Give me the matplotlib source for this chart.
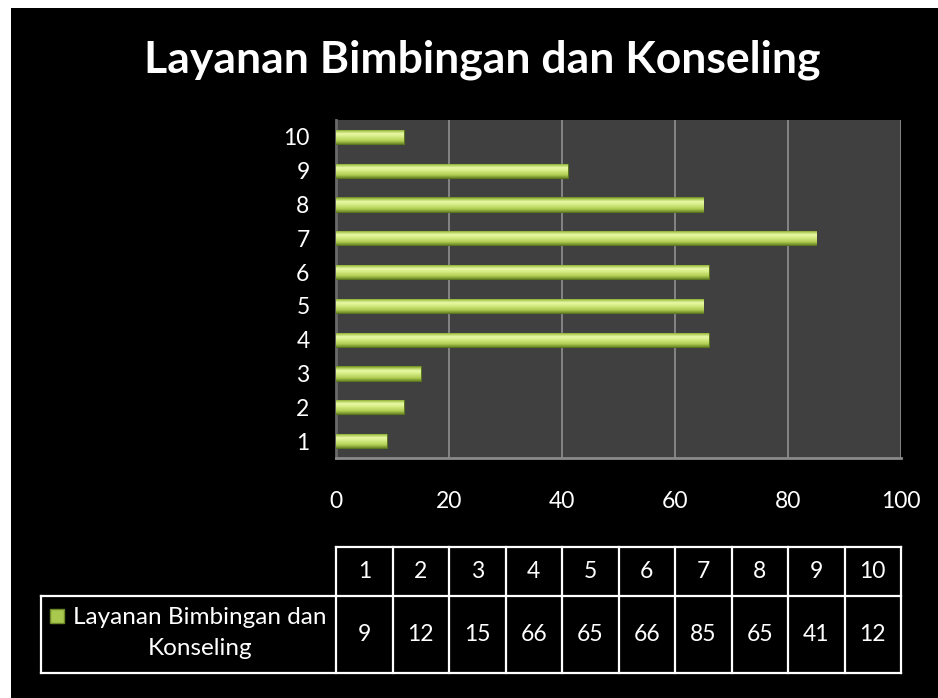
import matplotlib
matplotlib.use("Agg")
import matplotlib.pyplot as plt
import numpy as np
from matplotlib.colors import LinearSegmentedColormap
from matplotlib.patches import Rectangle

plt.rcParams['font.family'] = ['Lato', 'DejaVu Sans']

title = "Layanan Bimbingan dan Konseling"
series_name = "Layanan Bimbingan dan\nKonseling"
categories = ["1", "2", "3", "4", "5", "6", "7", "8", "9", "10"]
values = [9, 12, 15, 66, 65, 66, 85, 65, 41, 12]
x_ticks = [0, 20, 40, 60, 80, 100]

W, H = 938, 698
fig = plt.figure(figsize=(W / 100, H / 100), dpi=100, facecolor="white")

# black slide background (white margin at top/left like the screenshot)
fig.patches.append(Rectangle((11 / W, 0), 1, 1 - 8 / H, transform=fig.transFigure,
                             facecolor="black", edgecolor="none", zorder=-5))

fig.text(482 / W, 1 - 60 / H, title, ha="center", va="center", color="white",
         fontsize=32, fontweight="bold")

# chart area
px_l, px_r, px_t, px_b = 336, 901, 120, 458
ax = fig.add_axes([px_l / W, 1 - px_b / H, (px_r - px_l) / W, (px_b - px_t) / H])
ax.set_facecolor("#404040")
ax.set_xlim(0, 100)
ax.set_ylim(0.5, len(categories) + 0.5)
ax.set_xticks(x_ticks)
ax.set_yticks(range(1, len(categories) + 1))
ax.set_yticklabels(categories)
ax.tick_params(length=0, colors="white", labelsize=16.5)
ax.tick_params(axis="y", pad=19)
ax.tick_params(axis="x", pad=24)
ax.grid(axis="x", color="#8a8a8a", linewidth=1.3)
ax.set_axisbelow(True)
for s in ["top", "right"]:
    ax.spines[s].set_visible(False)
ax.spines["left"].set_color("#6a6a6a")
ax.spines["left"].set_linewidth(2)
ax.spines["bottom"].set_color("#8a8a8a")
ax.spines["bottom"].set_linewidth(2)

cmap = LinearSegmentedColormap.from_list("bev", [
    (0.0, "#6a8628"), (0.12, "#a9c84c"), (0.3, "#e8f8a8"),
    (0.5, "#d6ec84"), (0.8, "#b0cd52"), (1.0, "#6e8a28")])
grad = np.linspace(0, 1, 64).reshape(-1, 1)
bh = 0.42
ypos = np.arange(1, len(categories) + 1)
bars = ax.barh(ypos, values, height=bh, color="#b5d35e", edgecolor="#5a7620",
               linewidth=0.8, zorder=3)
for b, y, v in zip(bars, ypos, values):
    im = ax.imshow(grad, cmap=cmap, aspect="auto", origin="upper",
                   extent=[0, v, y - bh / 2, y + bh / 2], zorder=3.5)
    im.set_clip_path(b)
ax.set_xlim(0, 100)
ax.set_ylim(0.5, len(categories) + 0.5)

# data table below
tx0, tx1, ty_top, ty_mid, ty_bot = 41, 901, 547, 596, 673
tab = fig.add_axes([0, 0, 1, 1], facecolor="none")
tab.set_xlim(0, W)
tab.set_ylim(H, 0)
tab.axis("off")
lw = 1.6
col_w = (tx1 - px_l) / len(categories)
tab.plot([px_l, tx1], [ty_top, ty_top], color="white", lw=lw)
tab.plot([tx0, tx1], [ty_mid, ty_mid], color="white", lw=lw)
tab.plot([tx0, tx1], [ty_bot, ty_bot], color="white", lw=lw)
tab.plot([tx0, tx0], [ty_mid, ty_bot], color="white", lw=lw)
for i in range(len(categories) + 1):
    x = px_l + i * col_w
    tab.plot([x, x], [ty_top, ty_bot], color="white", lw=lw)
for i, (c, v) in enumerate(zip(categories, values)):
    cx = px_l + (i + 0.5) * col_w
    tab.text(cx, (ty_top + ty_mid) / 2, c, ha="center", va="center",
             color="white", fontsize=16.5)
    tab.text(cx, (ty_mid + ty_bot) / 2, str(v), ha="center", va="center",
             color="white", fontsize=16.5)
tab.add_patch(Rectangle((50, 609), 14, 14, facecolor="#a9c84e", edgecolor="#6d8a28", lw=1))
tab.text(200, 633, series_name, ha="center", va="center",
         color="white", fontsize=17.5, linespacing=1.55)

fig.savefig("out.png", dpi=100, facecolor=fig.get_facecolor())
